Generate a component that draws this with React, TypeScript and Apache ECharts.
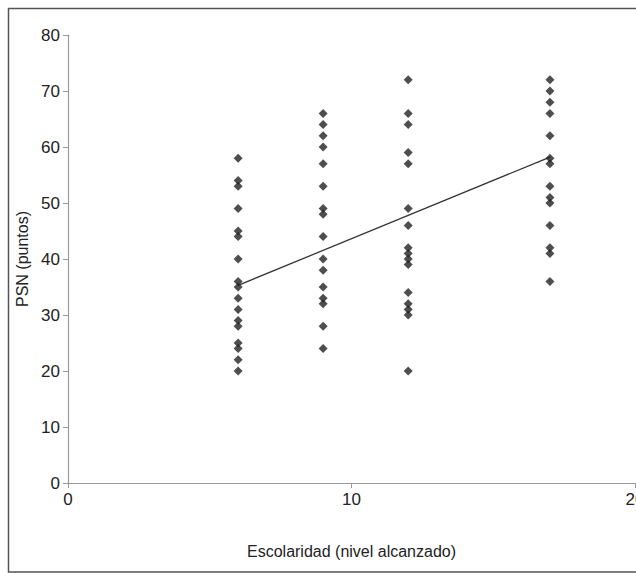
import React, { useEffect, useRef } from "react";
import * as echarts from "echarts";

const xLevels = [6, 9, 12, 17];
const psn6 = [58, 54, 53, 49, 45, 44, 40, 36, 35, 33, 31, 29, 28, 25, 24, 22, 20];
const psn9 = [66, 64, 62, 60, 57, 53, 49, 48, 44, 40, 38, 35, 33, 32, 28, 24];
const psn12 = [72, 66, 64, 59, 57, 49, 46, 42, 41, 40, 39, 34, 32, 31, 30, 20];
const psn17 = [72, 70, 68, 66, 62, 58, 57, 53, 51, 50, 46, 42, 41, 36];
const trendX = [6, 17];
const trendY = [35.3, 58.2];
const xTicks = [0, 10, 20];
const yTicks = [0, 10, 20, 30, 40, 50, 60, 70, 80];

export default function App() {
  const ref = useRef<HTMLDivElement>(null);
  useEffect(() => {
    if (!ref.current) return;
    const chart = echarts.init(ref.current, null, { renderer: "svg" });
    const cols = [psn6, psn9, psn12, psn17];
    const points: number[][] = [];
    cols.forEach((arr, i) => arr.forEach((v) => points.push([xLevels[i], v])));
    const font = "'Liberation Sans', Arial, sans-serif";
    chart.setOption({
      animation: false,
      backgroundColor: "#fff",
      graphic: [
        {
          type: "rect",
          shape: { x: 8.5, y: 8.5, width: 700, height: 563.5 },
          style: { fill: "none", stroke: "#555", lineWidth: 1.5 },
          silent: true,
        },
      ],
      grid: { left: 68, right: 1, top: 35, bottom: 90, outerBoundsMode: "none", containLabel: false },
      xAxis: {
        type: "value",
        min: xTicks[0],
        max: xTicks[xTicks.length - 1],
        interval: 10,
        name: "Escolaridad (nivel alcanzado)",
        nameLocation: "middle",
        nameGap: 60,
        nameTextStyle: { fontSize: 16, color: "#222", fontFamily: font },
        axisLine: { lineStyle: { color: "#999", width: 1.2 } },
        axisTick: { show: true, length: 5, lineStyle: { color: "#999" } },
        axisLabel: { fontSize: 17, color: "#222", fontFamily: font, margin: 8 },
        splitLine: { show: false },
      },
      yAxis: {
        type: "value",
        min: yTicks[0],
        max: yTicks[yTicks.length - 1],
        interval: 10,
        name: "PSN (puntos)",
        nameLocation: "middle",
        nameGap: 30,
        nameTextStyle: { fontSize: 16, color: "#222", fontFamily: font },
        axisLine: { show: true, lineStyle: { color: "#999", width: 1.2 } },
        axisTick: { show: true, length: 5, lineStyle: { color: "#999" } },
        axisLabel: { fontSize: 17, color: "#222", fontFamily: font, margin: 8 },
        splitLine: { show: false },
      },
      series: [
        {
          type: "line",
          data: trendX.map((x, i) => [x, trendY[i]]),
          symbol: "none",
          lineStyle: { color: "#333", width: 1.3 },
          z: 1,
        },
        {
          type: "scatter",
          data: points,
          symbol: "diamond",
          symbolSize: 9,
          itemStyle: { color: "#222" },
          z: 2,
        },
      ],
    });
    return () => chart.dispose();
  }, []);
  return (
    <div
      ref={ref}
      style={{ position: "fixed", left: 0, top: 0, width: 636, height: 573 }}
    />
  );
}
